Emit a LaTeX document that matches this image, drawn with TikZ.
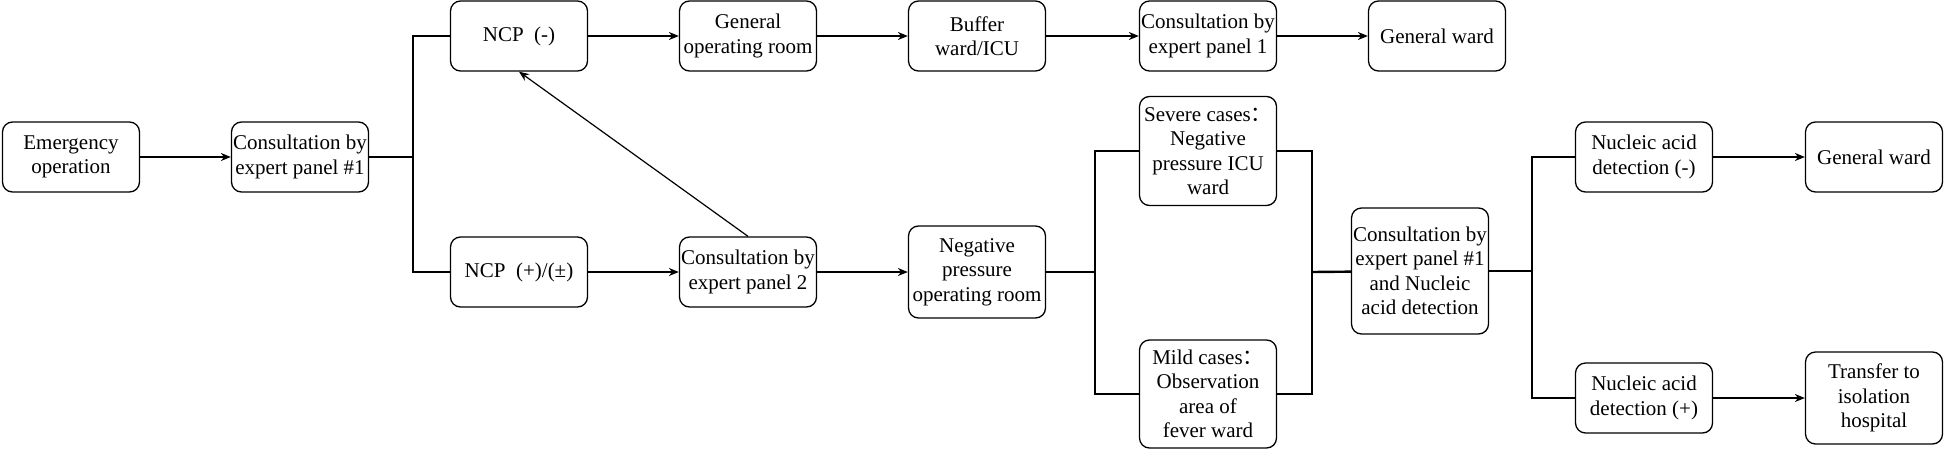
\documentclass[tikz,border=0pt]{standalone}
\usepackage{fontspec}
\setmainfont{Liberation Serif}
\newfontfamily\cjkfont{Noto Sans CJK SC}
\usepackage{tikz}
\usetikzlibrary{calc, arrows.meta, positioning}

\begin{document}
\begin{tikzpicture}[x=1pt, y=-1pt, font=\rmfamily\fontsize{21}{24.5}\selectfont]
		\tikzstyle{box} = [draw=black, rectangle, rounded corners=10pt, line width=1.3pt, minimum width=137pt, minimum height=70pt, inner sep=1pt, align=center]
		\tikzstyle{arrow} = [line width=1.2pt, -{Stealth[length=10pt, width=8pt]}]
		\tikzstyle{branch} = [line width=2.4pt]
		
		\useasboundingbox (0, 0) rectangle (1946, 450);
		
		% first column
		\node[box]	at (71, 157)	(emerg)	{Emergency\\operation};
		\node[box]	at (300, 157)	(cons1)	{Consultation by\\expert panel \#1};
		
		% NCP negative, upper row
		\node[box]	at (519, 36)	(ncpneg)	{NCP\enspace(-)};
		\node[box]	at (748, 36)	(genop)	{General\\operating room};
		\node[box]	at (977, 36)	(buffer)	{Buffer\\ward/ICU};
		\node[box]	at (1208, 36)	(consp1)	{Consultation by\\expert panel 1};
		\node[box]	at (1437, 36)	(ward1)	{General ward};
		
		% NCP positive, lower row
		\node[box]	at (519, 272)	(ncppos)	{NCP\enspace(+)/(±)};
		\node[box]	at (748, 272)	(consp2)	{Consultation by\\expert panel 2};
		\node[box, minimum height=92pt]	at (977, 272)	(negop)	{Negative\\pressure\\operating room};
		
		\node[box, minimum height=109pt]	at (1208, 151)	(severe)	{Severe cases{\cjkfont ：}\\Negative\\pressure ICU\\ward};
		\node[box, minimum height=108pt]	at (1208, 394)	(mild)	{Mild cases{\cjkfont ：}\\Observation\\area of\\fever ward};
		
		\node[box, minimum height=126pt]	at (1420, 271)	(cons3)	{Consultation by\\expert panel \#1\\and Nucleic\\acid detection};
		
		\node[box]	at (1644, 157)	(nadneg)	{Nucleic acid\\detection (-)};
		\node[box]	at (1644, 398)	(nadpos)	{Nucleic acid\\detection (+)};
		\node[box]	at (1874, 157)	(ward2)	{General ward};
		\node[box, minimum height=92pt]	at (1874, 398)	(transfer)	{Transfer to\\isolation\\hospital};
		
		% forks
		\coordinate (fork1) at (413, 157);
		\coordinate (fork2) at (1095, 272);
		\coordinate (join) at (1312, 272);
		\coordinate (fork3) at (1532, 271);
		
		\draw [arrow] (emerg) -- (cons1);
		
		\draw [branch] (cons1) -- (fork1) |- (ncpneg);
		\draw [branch] (fork1) |- (ncppos);
		
		\draw [arrow] (ncpneg) -- (genop);
		\draw [arrow] (genop) -- (buffer);
		\draw [arrow] (buffer) -- (consp1);
		\draw [arrow] (consp1) -- (ward1);
		
		\draw [arrow] (ncppos) -- (consp2);
		\draw [arrow] (consp2) -- (negop);
		\draw [arrow] (consp2.north) -- (ncpneg.south);
		
		\draw [branch] (negop) -- (fork2) |- (severe);
		\draw [branch] (fork2) |- (mild);
		\draw [branch] (severe) -| (join);
		\draw [branch] (mild) -| (join);
		\draw [branch] (join) -- (cons3);
		
		\draw [branch] (cons3) -- (fork3) |- (nadneg);
		\draw [branch] (fork3) |- (nadpos);
		
		\draw [arrow] (nadneg) -- (ward2);
		\draw [arrow] (nadpos) -- (transfer);
	\end{tikzpicture}
\end{document}
